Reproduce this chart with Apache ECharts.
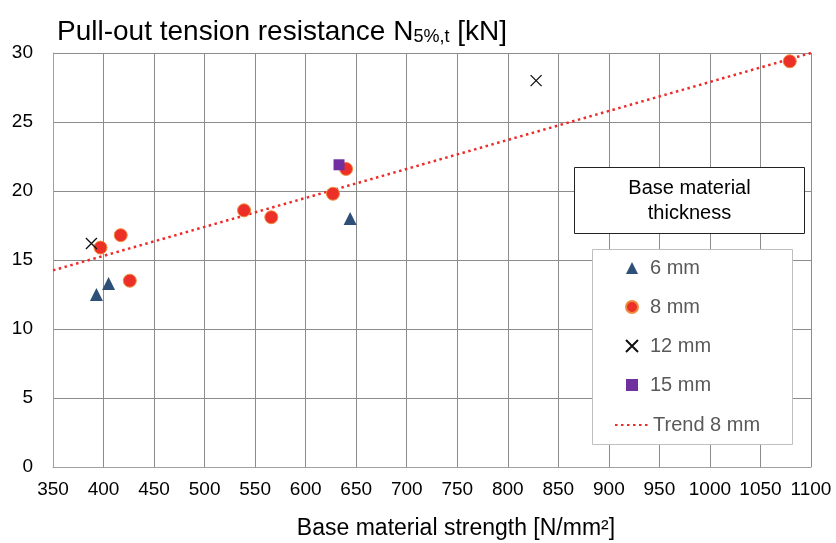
<!DOCTYPE html>
<html lang="en">
<head>
    <meta charset="UTF-8">
    <title>Pull-out tension resistance</title>
    <script src="https://cdn.jsdelivr.net/npm/echarts@6/dist/echarts.min.js"></script>
    <style>
        html, body { margin: 0; padding: 0; background: #fff; }
        #main { width: 836px; height: 543px; }
    </style>
</head>
<body>
<div id="main"></div>
<script type="text/javascript">
    // [strength N/mm², resistance kN]
    var data6 = [[393, 12.5], [405, 13.3], [644, 18.0]];
    var data8 = [[397, 15.9], [417, 16.8], [426, 13.5], [539, 18.6], [566, 18.1],
                 [627, 19.8], [640, 21.6], [1079, 29.4]];
    var data12 = [[388, 16.2], [828, 28.0]];
    var data15 = [[633, 21.9]];
    var trend8 = [[350, 14.25], [1100, 30.0]];

    var xMin = 350, xMax = 1100, xStep = 50;
    var yMin = 0, yMax = 30, yStep = 5;

    var FONT = 'Liberation Sans, Arial, sans-serif';
    var TXT = { fontFamily: FONT, fontSize: 20, color: '#595959', lineHeight: 22 };

    var myChart = echarts.init(document.getElementById('main'));

    var option = {
        animation: false,
        title: {
            left: 52,
            top: 8,
            text: '{a|Pull-out tension resistance N}{s|5%,t}{a| [kN]}',
            textStyle: {
                fontWeight: 'normal',
                rich: {
                    a: { fontFamily: FONT, fontSize: 28, fontWeight: 'normal', color: '#000', verticalAlign: 'bottom', lineHeight: 33 },
                    s: { fontFamily: FONT, fontSize: 18, fontWeight: 'normal', color: '#000', verticalAlign: 'bottom', lineHeight: 22 }
                }
            }
        },
        grid: { left: 53, right: 25, top: 53, bottom: 76, outerBoundsMode: 'none' },
        xAxis: {
            type: 'value',
            min: xMin, max: xMax, interval: xStep,
            name: 'Base material strength [N/mm²]',
            nameLocation: 'middle',
            nameGap: 50,
            nameTextStyle: { fontFamily: FONT, fontSize: 23, color: '#000', padding: [0, 0, 0, 48] },
            axisLine: { show: true, lineStyle: { color: '#a0a0a0' } },
            axisTick: { show: false },
            axisLabel: {
                fontFamily: FONT, fontSize: 19, color: '#000', margin: 13,
                formatter: function (v) { return String(v); }
            },
            splitLine: { show: true, lineStyle: { color: '#8c8c8c', width: 1 } }
        },
        yAxis: {
            type: 'value',
            min: yMin, max: yMax, interval: yStep,
            axisLine: { show: true, lineStyle: { color: '#a0a0a0' } },
            axisTick: { show: false },
            axisLabel: { fontFamily: FONT, fontSize: 19, color: '#000', margin: 20 },
            splitLine: { show: true, lineStyle: { color: '#8c8c8c', width: 1 } }
        },
        legend: [
            {
                orient: 'vertical',
                left: 625,
                top: 257,
                padding: 0,
                z: 10,
                itemGap: 17,
                itemWidth: 12,
                itemHeight: 12,
                textStyle: Object.assign({ padding: [0, 0, 0, 7] }, TXT),
                data: ['6 mm', '8 mm', '12 mm', '15 mm']
            },
            {
                orient: 'vertical',
                left: 614,
                top: 414,
                padding: 0,
                z: 10,
                itemWidth: 33,
                itemHeight: 14,
                itemGap: 3,
                textStyle: TXT,
                data: [{ name: 'Trend 8 mm', itemStyle: { color: 'rgba(0,0,0,0)', borderWidth: 0 } }]
            }
        ],
        graphic: [
            {
                type: 'rect',
                left: 592,
                top: 249,
                z: 8,
                shape: { x: 0, y: 0, width: 200, height: 195 },
                style: { fill: '#fff', stroke: '#bfbfbf', lineWidth: 1 }
            },
            {
                type: 'group',
                left: 574,
                top: 167,
                z: 8,
                children: [
                    {
                        type: 'rect',
                        z: 8,
                        shape: { x: 0, y: 0, width: 230, height: 66 },
                        style: { fill: '#fff', stroke: '#222', lineWidth: 1 }
                    },
                    {
                        type: 'text',
                        z: 9,
                        x: 115, y: 33,
                        style: {
                            text: 'Base material\nthickness',
                            fontFamily: FONT, fontSize: 20, fill: '#000',
                            align: 'center', verticalAlign: 'middle', lineHeight: 25
                        }
                    }
                ]
            }
        ],
        series: [
            {
                name: 'Trend 8 mm',
                type: 'line',
                data: trend8,
                showSymbol: false,
                symbol: 'none',
                z: 1,
                lineStyle: { color: '#ee2b2b', width: 2.5, type: [2.5, 3.5] },
                itemStyle: { color: '#ee2b2b' }
            },
            {
                name: '6 mm',
                type: 'scatter',
                data: data6,
                symbol: 'triangle',
                symbolSize: 13,
                itemStyle: { color: '#2d4f78', opacity: 1 }
            },
            {
                name: '8 mm',
                type: 'scatter',
                data: data8,
                symbol: 'circle',
                symbolSize: 13,
                itemStyle: { color: '#ec2f27', borderColor: '#f08a3c', borderWidth: 1, opacity: 1 }
            },
            {
                name: '12 mm',
                type: 'scatter',
                data: data12,
                symbol: 'path://M0,0L10,10M10,0L0,10',
                symbolSize: 11,
                itemStyle: { color: 'rgba(0,0,0,0)', borderColor: '#111', borderWidth: 1.3, opacity: 1 }
            },
            {
                name: '15 mm',
                type: 'scatter',
                data: data15,
                symbol: 'rect',
                symbolSize: 11,
                itemStyle: { color: '#7030a0', opacity: 1 }
            }
        ]
    };

    myChart.setOption(option);
</script>
</body>
</html>
